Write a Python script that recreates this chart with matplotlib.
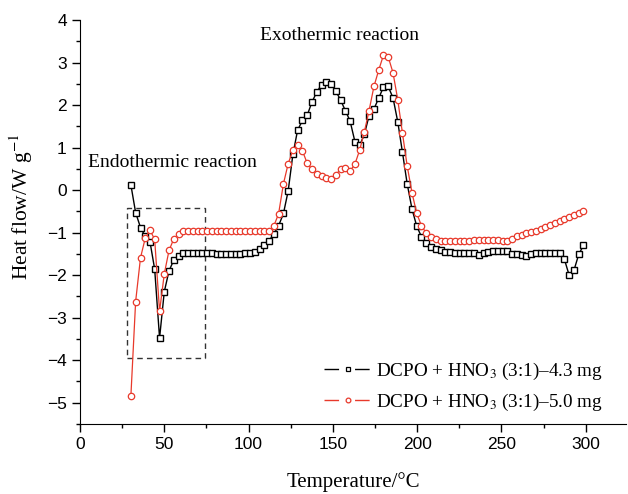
import matplotlib
matplotlib.use("Agg")
import matplotlib.pyplot as plt
from matplotlib.patches import Rectangle
from matplotlib.lines import Line2D

plt.rcParams['mathtext.fontset'] = 'stix'

# temperature grid (degC), shared by both runs
temp = [30.2, 33.0, 35.9, 38.7, 41.5, 44.3, 47.2, 50.0, 52.8, 55.6,
        58.5, 61.3, 64.1, 66.9, 69.8, 72.6, 75.4, 78.3, 81.1, 83.9,
        86.7, 89.6, 92.4, 95.2, 98.0, 100.9, 103.7, 106.5, 109.3, 112.2,
        115.0, 117.8, 120.7, 123.5, 126.3, 129.1, 132.0, 134.8, 137.6, 140.4,
        143.3, 146.1, 148.9, 151.7, 154.6, 157.4, 160.2, 163.1, 165.9, 168.7,
        171.5, 174.4, 177.2, 180.0, 182.8, 185.7, 188.5, 191.3, 194.1, 197.0,
        199.8, 202.6, 205.4, 208.3, 211.1, 213.9, 216.8, 219.6, 222.4, 225.2,
        228.1, 230.9, 233.7, 236.5, 239.4, 242.2, 245.0, 247.8, 250.7, 253.5,
        256.3, 259.2, 262.0, 264.8, 267.6, 270.5, 273.3, 276.1, 278.9, 281.8,
        284.6, 287.4, 290.2, 293.1, 295.9, 298.7]

# heat flow, 4.3 mg sample
flow_43 = [0.12, -0.53, -0.88, -1.09, -1.21, -1.86, -3.48, -2.39, -1.90, -1.65,
           -1.55, -1.49, -1.47, -1.47, -1.47, -1.47, -1.48, -1.49, -1.50, -1.50,
           -1.51, -1.51, -1.50, -1.50, -1.49, -1.48, -1.45, -1.38, -1.30, -1.19,
           -1.03, -0.84, -0.55, -0.02, 0.84, 1.41, 1.64, 1.76, 2.07, 2.30,
           2.48, 2.54, 2.50, 2.33, 2.12, 1.87, 1.63, 1.14, 1.05, 1.31,
           1.75, 1.91, 2.16, 2.42, 2.44, 2.17, 1.61, 0.89, 0.15, -0.45,
           -0.85, -1.10, -1.24, -1.33, -1.38, -1.41, -1.45, -1.46, -1.47, -1.48,
           -1.48, -1.48, -1.48, -1.53, -1.48, -1.46, -1.44, -1.43, -1.43, -1.43,
           -1.51, -1.51, -1.53, -1.56, -1.51, -1.48, -1.47, -1.47, -1.48, -1.48,
           -1.49, -1.63, -2.00, -1.88, -1.51, -1.30]

# heat flow, 5.0 mg sample
flow_50 = [-4.83, -2.62, -1.59, -1.13, -0.94, -1.16, -2.85, -1.97, -1.42, -1.15,
           -1.03, -0.96, -0.95, -0.96, -0.96, -0.96, -0.97, -0.97, -0.97, -0.97,
           -0.97, -0.97, -0.97, -0.97, -0.97, -0.97, -0.97, -0.97, -0.97, -0.96,
           -0.84, -0.56, 0.15, 0.62, 0.94, 1.05, 0.92, 0.63, 0.49, 0.39,
           0.33, 0.28, 0.27, 0.36, 0.49, 0.53, 0.45, 0.61, 0.94, 1.37,
           1.87, 2.44, 2.82, 3.17, 3.14, 2.76, 2.13, 1.34, 0.57, -0.07,
           -0.55, -0.84, -1.01, -1.11, -1.16, -1.19, -1.20, -1.20, -1.20, -1.20,
           -1.20, -1.19, -1.18, -1.18, -1.17, -1.17, -1.17, -1.17, -1.19, -1.20,
           -1.16, -1.09, -1.05, -1.00, -0.98, -0.95, -0.91, -0.87, -0.82, -0.78,
           -0.73, -0.68, -0.63, -0.59, -0.54, -0.49]

labels = ['DCPO + HNO$_3$ (3:1)\u20134.3 mg', 'DCPO + HNO$_3$ (3:1)\u20135.0 mg']
red = '#e8392b'
serif = 'Liberation Serif'
sans = 'Liberation Sans'

fig = plt.figure(figsize=(6.28, 4.94), dpi=100)
ax = fig.add_axes([0.1274, 0.1417, 0.8696, 0.8178])

ax.plot(temp, flow_43, color='black', lw=1.0, marker='s', ms=4.2, mfc='white',
        mec='black', mew=1.0)
ax.plot(temp, flow_50, color=red, lw=0.9, marker='o', ms=4.6, mfc='white',
        mec=red, mew=0.9)

# box around the endothermic region
ax.add_patch(Rectangle((27.8, -3.94), 46.2, 3.51, fill=False, ls=(0, (4, 3)),
                       lw=1.0, ec='#333333'))

ax.text(4.5, 0.66, 'Endothermic reaction', family=serif, fontsize=14, va='center')
ax.text(154, 3.63, 'Exothermic reaction', family=serif, fontsize=14,
        va='center', ha='center')

ax.set_xlim(0, 324)
ax.set_ylim(-5.5, 4)
ax.set_xticks([0, 50, 100, 150, 200, 250, 300])
ax.set_xticks(range(25, 325, 50), minor=True)
ax.set_yticks(range(-5, 5))
ax.set_yticks([v + 0.5 for v in range(-6, 4)], minor=True)
ax.set_yticklabels(['\u22125', '\u22124', '\u22123', '\u22122', '\u22121',
                    '0', '1', '2', '3', '4'])

for s in ['top', 'right']:
    ax.spines[s].set_visible(False)
ax.tick_params(which='major', direction='out', length=5.5, width=1,
               labelsize=12.5, pad=4)
ax.tick_params(which='minor', direction='out', length=3, width=1)
for lab in ax.get_xticklabels() + ax.get_yticklabels():
    lab.set_family(sans)

ax.set_xlabel('Temperature/\u00b0C', family=serif, fontsize=15, labelpad=14)
ax.set_ylabel('Heat flow/W g$^{-1}$', family=serif, fontsize=15.5)
ax.yaxis.set_label_coords(-0.082, 0.537)

# legend handles: broken line with a small marker in the gap
h43 = (Line2D([], [], color='black', lw=1.0, ls=(0, (10.5, 11.5))),
       Line2D([], [], ls='none', marker='s', ms=3.2, mfc='white', mec='black', mew=0.9))
h50 = (Line2D([], [], color=red, lw=1.0, ls=(0, (10.5, 11.5))),
       Line2D([], [], ls='none', marker='o', ms=3.4, mfc='white', mec=red, mew=0.9))
ax.legend([h43, h50], labels, loc='lower right', bbox_to_anchor=(0.99, -0.015),
          frameon=False, prop={'family': serif, 'size': 13.8}, handlelength=2.5,
          handletextpad=0.25, labelspacing=0.5, numpoints=1)

fig.savefig('out.png', dpi=100)
